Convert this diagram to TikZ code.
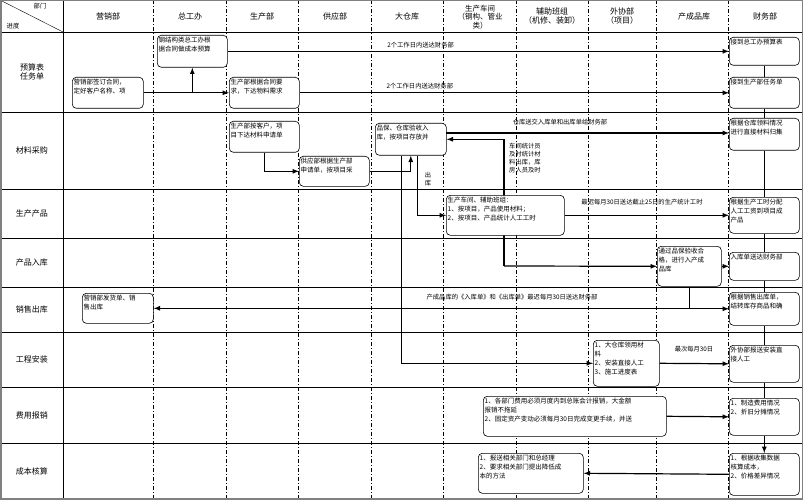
\documentclass[tikz,border=0pt]{standalone}
\usepackage{fontspec}
\newfontfamily\cjk{Noto Sans CJK SC}
\usetikzlibrary{calc,backgrounds}
\tikzset{
  box/.style={draw, fill=white, rounded corners=4pt, line width=0.6pt, inner sep=0pt},
  txt/.style={anchor=north west, inner sep=1.5pt, align=left, font=\cjk\fontsize{6.5}{9}\selectfont},
  lbl/.style={inner sep=1pt, font=\cjk\fontsize{6.3}{8}\selectfont},
  hd/.style={align=center, font=\cjk\fontsize{8}{9}\selectfont},
  arr/.style={-latex, line width=1.2pt},
  link/.style={line width=1.2pt},
  col/.style={dash pattern=on 4pt off 2pt on 1pt off 2pt, line width=0.5pt}
}
\newcommand\bx[6]{%
  \node[box, minimum width=#4pt, minimum height=#5pt, anchor=north west] (#1) at (#2,#3) {};
  \node[txt] at (#1.north west) {#6};}
\begin{document}
\begin{tikzpicture}[x=1pt, y=-1pt]
  \useasboundingbox (0,0) rectangle (803,500);
  % grid
  \foreach \y in {32,112,189,238,287,332,387,443}
    \draw[line width=0.5pt] (0,\y) -- (802,\y);
  \foreach \x in {153,226,298,371,443,516,588,656,728}
    \draw[col] (\x,0) -- (\x,498);
  \draw[line width=1pt] (63,0) -- (63,498);
  \draw[line width=0.4pt] (0,0) -- (63,32);
  \draw[gray, line width=1.5pt] (0.75,0.75) rectangle (802.25,498.75);
  \node[lbl] at (40,6) {部门};
  \node[lbl] at (13,26) {进度};
  % headers
  \node[hd] at (108,16) {营销部};
  \node[hd] at (190,16) {总工办};
  \node[hd] at (262,16) {生产部};
  \node[hd] at (335,16) {供应部};
  \node[hd] at (407,16) {大仓库};
  \node[hd, font=\cjk\fontsize{7.5}{8.5}\selectfont] at (480,17) {生产车间\\（钢构、管业\\类）};
  \node[hd] at (552,16) {辅助班组\\（机修、装卸）};
  \node[hd] at (622,16) {外协部\\（项目）};
  \node[hd] at (694,16) {产成品库};
  \node[hd] at (765,16) {财务部};
  % row titles
  \node[hd] at (32,72) {预算表\\任务单};
  \node[hd] at (32,150) {材料采购};
  \node[hd] at (32,213) {生产产品};
  \node[hd] at (32,262) {产品入库};
  \node[hd] at (32,309) {销售出库};
  \node[hd] at (32,359) {工程安装};
  \node[hd] at (32,415) {费用报销};
  \node[hd] at (32,471) {成本核算};
  % boxes
  \bx{yx}{72}{77}{71}{31}{营销部签订合同，\\定好客户名称、项}
  \bx{zg}{157}{35}{70}{32}{钢结构类总工办根\\据合同做成本预算}
  \bx{sc1}{229}{77}{70}{31}{生产部根据合同要\\求，下达物料需求}
  \bx{sc2}{229}{121}{70}{31}{生产部按客户，项\\目下达材料申请单}
  \bx{gy}{299}{156}{70}{30}{供应部根据生产部\\申请单，按项目采}
  \bx{pb}{375}{123}{71}{32}{品保、仓库验收入\\库，按项目存放并}
  \bx{sc3}{446}{195}{118}{40}{生产车间、辅助班组：\\1、按项目，产品使用材料；\\2、按项目、产品统计人工工时}
  \bx{cp}{657}{246}{64}{40}{通过品保验收合\\格，进行入产成\\品库}
  \bx{yx2}{82}{293}{71}{30}{营销部发货单、销\\售出库}
  \bx{wx}{593}{340}{66}{46}{1、大仓库领用材\\料\\2、安装直接人工\\3、施工进度表}
  \bx{fy}{483}{396}{183}{40}{1、各部门费用必须月度内到总账会计报销，大金额\\报销不拖延\\2、固定资产变动必须每月30日完成变更手续，并送}
  \bx{cb}{478}{453}{105}{40}{1、报送相关部门和总经理\\2、要求相关部门提出降低成\\本的方法}
  \bx{f1}{729}{37}{70}{28}{接到总工办预算表}
  \bx{f2}{729}{77}{70}{31}{接到生产部任务单}
  \bx{f3}{729}{118}{70}{32}{根据仓库领料情况\\进行直接材料归集}
  \bx{f4}{729}{197}{70}{36}{根据生产工时分配\\人工工资到项目成\\产品}
  \bx{f5}{729}{252}{70}{28}{入库单送达财务部}
  \bx{f6}{729}{292}{70}{33}{根据销售出库单，\\结转库存商品和确}
  \bx{f7}{729}{345}{70}{37}{外协部报送安装直\\接人工}
  \bx{f8}{729}{398}{70}{37}{1、制造费用情况\\2、折旧分摊情况}
  \bx{f9}{729}{453}{70}{42}{1、根据收集数据\\核算成本，\\2、价格差异情况}
  % finance chain
  \foreach \a/\b in {f1/f2,f2/f3,f3/f4,f4/f5,f5/f6,f6/f7,f7/f8}
    \draw[link] (\a.south) -- (\b.north);
  \draw[arr] (f8.south) -- (f9.north);
  % flows
  \draw[arr] (yx.east) -- (sc1.west);
  \draw[arr] (yx.east -| zg.south) -- (zg.south);
  \draw[arr] (zg.east) -- (f1.west) node[lbl, pos=0.385, above=2pt] {2个工作日内送达财务部};
  \draw[arr] (sc1.east) -- (f2.west) node[lbl, pos=0.28, above=2pt] {2个工作日内送达财务部};
  \draw[arr] (sc2.south) |- (gy.west);
  \draw[arr] (gy.east) -| (pb.south);
  \coordinate (ck) at (446,133);
  \draw[arr] (ck) -- (ck -| f3.west);
  \node[lbl] at (560,122) {仓库送交入库单和出库单给财务部};
  \coordinate (tj) at (504,266);
  \begin{pgfonlayer}{background}
    \draw[arr] (tj) |- (pb.east);
  \end{pgfonlayer}
  \draw[arr] (tj) -- (cp.west);
  \node[lbl, anchor=north west, align=left] at (508,142) {车间统计员\\及时统计材\\料出库，库\\房人员及时};
  \draw[arr] ($(pb.south)+(7,0)$) |- (sc3.west);
  \node[lbl, align=center] at (428,179) {出\\库};
  \draw[arr] (sc3.east) -- (f4.west);
  \node[lbl] at (642,202) {最迟每月30日送达截止25日的生产统计工时};
  \draw[arr] ($(pb.south)+(-9,0)$) |- (wx.west);
  \draw[arr] (cp.east) -- (f5.west);
  \draw[arr] (cp.south) |- (f6.west);
  \draw[arr] (cp.south |- yx2.east) -- (yx2.east);
  \node[lbl] at (512,297) {产成品库的《入库单》和《出库单》最迟每月30日送达财务部};
  \draw[arr] (wx.east) -- (f7.west);
  \node[lbl] at (694,349) {最次每月30日};
  \draw[arr] (fy.east) -- (f8.west);
  \draw[arr] (f9.west) -- (cb.east);
\end{tikzpicture}
\end{document}
